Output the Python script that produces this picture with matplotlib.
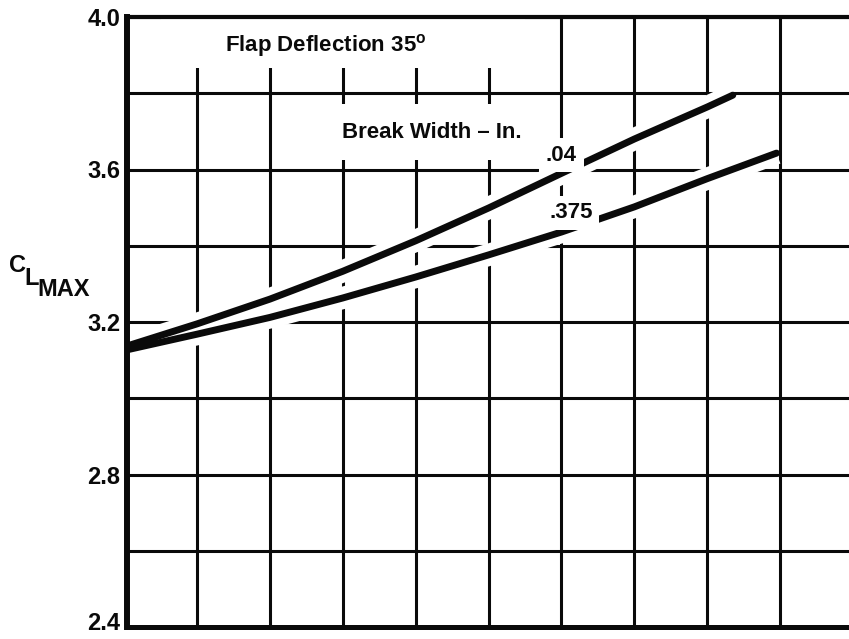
import matplotlib.pyplot as plt
import matplotlib.transforms as mtransforms
from matplotlib.patches import Rectangle

plt.rcParams["font.family"] = ["Liberation Sans", "DejaVu Sans"]
plt.rcParams["font.weight"] = "bold"
plt.rcParams["mathtext.fontset"] = "custom"
plt.rcParams["mathtext.bf"] = "Liberation Sans:bold"
plt.rcParams["mathtext.rm"] = "Liberation Sans:bold"

INK = "#0a0a0a"
PAPER = "white"

# break width curves, CLmax against grid position
x_04 = [0.04, 1, 2, 3, 4, 5, 6, 7, 8, 8.35]
cl_04 = [3.137, 3.195, 3.260, 3.333, 3.413, 3.499, 3.590, 3.680, 3.764, 3.795]

x_375 = [0.04, 1, 2, 3, 4, 5, 6, 7, 8, 8.95]
cl_375 = [3.127, 3.168, 3.212, 3.263, 3.318, 3.376, 3.436, 3.502, 3.576, 3.643]

y_grid = [2.4, 2.6, 2.8, 3.0, 3.2, 3.4, 3.6, 3.8, 4.0]
y_labels = ["2.4", "", "2.8", "", "3.2", "", "3.6", "", "4.0"]
x_grid = [1, 2, 3, 4, 5, 6, 7, 8, 9]

W, H = 849, 639
fig = plt.figure(figsize=(W / 100, H / 100), dpi=100)
fig.patch.set_facecolor(PAPER)
ax = fig.add_axes([127 / W, 1 - 627 / H, 1 - 127 / W, (627 - 17) / H])
ax.set_facecolor(PAPER)
ax.set_xlim(0.04, 9.944)
ax.set_ylim(2.4, 4.0)

ax.set_axisbelow(True)
ax.set_xticks(x_grid)
ax.set_xticklabels([])
ax.set_yticks(y_grid)
ax.set_yticklabels(y_labels, fontsize=17, fontweight="bold", color=INK)
ax.tick_params(length=0, pad=5)
ax.grid(True, color=INK, linewidth=2.2)

# lift the bottom label so it stays inside the page
lift = mtransforms.ScaledTranslation(0, 4 / 72, fig.dpi_scale_trans)
bottom_label = ax.get_yticklabels()[0]
bottom_label.set_transform(bottom_label.get_transform() + lift)

ax.spines["right"].set_visible(False)
ax.spines["left"].set_linewidth(4.3)
ax.spines["top"].set_linewidth(3.0)
ax.spines["bottom"].set_linewidth(3.6)
for s in ("left", "top", "bottom"):
    ax.spines[s].set_color(INK)

# blank paper strip behind the heading
ax.add_patch(Rectangle((0.5, 3.866), 5.0, 0.134, facecolor=PAPER,
                       edgecolor="none", zorder=1))

# white halo first so the grid breaks around both curves
for xs, ys in ((x_04, cl_04), (x_375, cl_375)):
    ax.plot(xs, ys, color=PAPER, linewidth=16, solid_capstyle="butt",
            solid_joinstyle="round", zorder=2)
for xs, ys in ((x_04, cl_04), (x_375, cl_375)):
    ax.plot(xs, ys, color=INK, linewidth=5, solid_capstyle="round",
            solid_joinstyle="round", zorder=3)

ax.text(1.38, 3.925, r"Flap Deflection 35$^{\mathbf{o}}$", fontsize=16,
        fontweight="bold", color=INK, va="center", ha="left", zorder=4)
ax.text(2.99, 3.698, "Break Width – In.", fontsize=16, fontweight="bold",
        color=INK, va="center", ha="left", zorder=4,
        bbox=dict(boxstyle="square,pad=0.8", facecolor=PAPER, edgecolor="none"))
ax.text(6.0, 3.638, ".04", fontsize=16, fontweight="bold", color=INK,
        va="center", ha="center", zorder=4,
        bbox=dict(boxstyle="square,pad=0.3", facecolor=PAPER, edgecolor="none"))
ax.text(6.13, 3.486, ".375", fontsize=16, fontweight="bold", color=INK,
        va="center", ha="center", zorder=4,
        bbox=dict(boxstyle="square,pad=0.3", facecolor=PAPER, edgecolor="none"))

# C_L_MAX label built from stepped pieces
fig.text(9 / W, 1 - 265 / H, "C", fontsize=17, fontweight="bold", color=INK,
         va="center", ha="left")
fig.text(24 / W, 1 - 278 / H, "L", fontsize=17, fontweight="bold", color=INK,
         va="center", ha="left")
fig.text(37 / W, 1 - 289 / H, "MAX", fontsize=17, fontweight="bold", color=INK,
         va="center", ha="left")

fig.savefig("out.png", dpi=100, facecolor=PAPER)
